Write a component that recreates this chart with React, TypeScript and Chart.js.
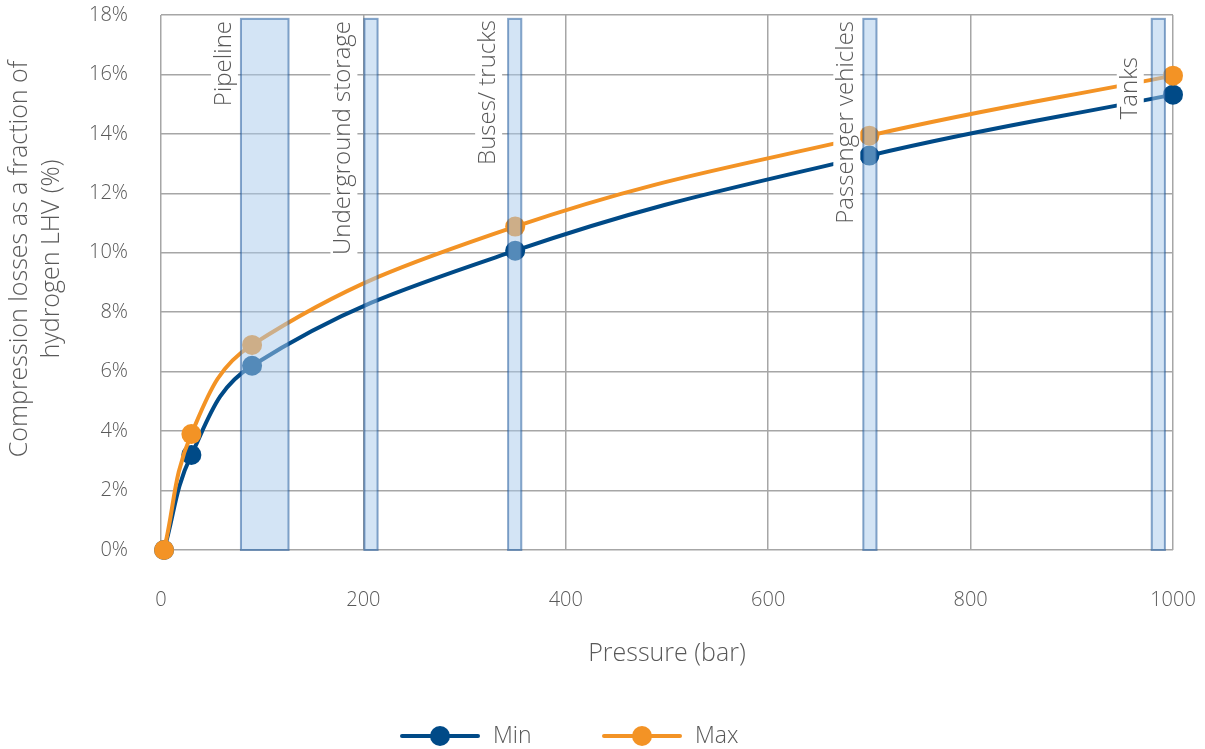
import React, { useEffect, useRef } from "react";
import { Chart, registerables } from "chart.js";

Chart.register(...registerables);

// ---- data ----
const pressures = [3, 30, 90, 350, 700, 1000];
const minLoss = [0, 3.2, 6.2, 10.07, 13.27, 15.32];
const maxLoss = [0, 3.9, 6.9, 10.88, 13.94, 15.96];
const seriesNames = ["Min", "Max"];
const bandLabels = ["Pipeline", "Underground storage", "Buses/ trucks", "Passenger vehicles", "Tanks"];
const bandStart = [79, 201, 343, 694, 979];
const bandEnd = [126, 214, 356, 707, 992];
const bandTop = 17.87;
const xTitle = "Pressure (bar)";
const yTitleLines = ["Compression losses as a fraction of", "hydrogen LHV (%)"];

const BLUE = "#004a87";
const ORANGE = "#f39325";
const TEXT = "#595959";
const FONT = '"Open Sans", sans-serif';
// label placement (pixels): offset left of band, top of text
const labelOffsetX = [17, 21, 20, 17, 22];
const labelTopY = [21, 21, 20, 21, 57];

const overlayPlugin = {
  id: "overlay",
  afterDatasetsDraw(chart: any) {
    const { ctx, scales } = chart;
    const x = scales.x;
    const y = scales.y;
    ctx.save();
    ctx.font = `300 24px ${FONT}`;
    bandLabels.forEach((lab, i) => {
      const px = x.getPixelForValue(bandStart[i]) - labelOffsetX[i];
      const py = labelTopY[i];
      const w = ctx.measureText(lab).width;
      ctx.save();
      ctx.translate(px, py);
      ctx.rotate(-Math.PI / 2);
      ctx.fillStyle = "#ffffff";
      ctx.fillRect(-w - 3, -13, w + 6, 27);
      ctx.fillStyle = TEXT;
      ctx.textAlign = "right";
      ctx.textBaseline = "middle";
      ctx.fillText(lab, 0, 0);
      ctx.restore();
    });
    bandStart.forEach((s, i) => {
      const x0 = x.getPixelForValue(s);
      const x1 = x.getPixelForValue(bandEnd[i]);
      const y0 = y.getPixelForValue(bandTop);
      const y1 = y.getPixelForValue(0);
      ctx.fillStyle = "rgba(167,201,235,0.5)";
      ctx.fillRect(x0, y0, x1 - x0, y1 - y0);
      ctx.strokeStyle = "rgba(20,80,150,0.5)";
      ctx.lineWidth = 2;
      ctx.strokeRect(x0, y0, x1 - x0, y1 - y0);
    });
    ctx.restore();
  },
  afterDraw(chart: any) {
    const { ctx, chartArea } = chart;
    ctx.save();
    ctx.fillStyle = TEXT;
    ctx.font = `300 25px ${FONT}`;
    ctx.textAlign = "center";
    ctx.textBaseline = "middle";
    ctx.fillText(xTitle, (chartArea.left + chartArea.right) / 2, 654);
    ctx.save();
    ctx.translate(0, 259);
    ctx.rotate(-Math.PI / 2);
    ctx.fillText(yTitleLines[0], 0, 20);
    ctx.fillText(yTitleLines[1], 0, 52);
    ctx.restore();
    // legend
    ctx.font = `300 23px ${FONT}`;
    const colors = [BLUE, ORANGE];
    const starts = [402, 604];
    seriesNames.forEach((name, i) => {
      const sx = starts[i];
      const cy = 736;
      ctx.strokeStyle = colors[i];
      ctx.lineWidth = 4;
      ctx.lineCap = "round";
      ctx.beginPath();
      ctx.moveTo(sx, cy);
      ctx.lineTo(sx + 76, cy);
      ctx.stroke();
      ctx.fillStyle = colors[i];
      ctx.beginPath();
      ctx.arc(sx + 38, cy, 10, 0, Math.PI * 2);
      ctx.fill();
      ctx.fillStyle = TEXT;
      ctx.textAlign = "left";
      ctx.fillText(name, sx + 91, cy);
    });
    ctx.restore();
  },
};

export default function App() {
  const ref = useRef<HTMLCanvasElement | null>(null);
  useEffect(() => {
    if (!ref.current) return;
    const mk = (vals: number[]) => pressures.map((p, i) => ({ x: p, y: vals[i] }));
    const common = {
      borderWidth: 4,
      pointRadius: 10,
      pointHoverRadius: 10,
      pointBorderWidth: 0,
      tension: 0.4,
      clip: false as any,
    };
    const chart = new Chart(ref.current, {
      type: "line",
      data: {
        datasets: [
          { ...common, label: seriesNames[0], data: mk(minLoss), borderColor: BLUE, backgroundColor: BLUE, order: 2 },
          { ...common, label: seriesNames[1], data: mk(maxLoss), borderColor: ORANGE, backgroundColor: ORANGE, order: 1 },
        ],
      },
      options: {
        animation: false,
        responsive: false,
        maintainAspectRatio: false,
        layout: { padding: { left: 0, right: 32, top: 15, bottom: 0 } },
        plugins: { legend: { display: false }, tooltip: { enabled: false } },
        scales: {
          x: {
            type: "linear",
            min: 0,
            max: 1000,
            ticks: {
              stepSize: 200,
              color: TEXT,
              font: { family: FONT, size: 20, weight: "300" as any },
              padding: 38,
              callback: (v: any) => String(v),
            },
            grid: { color: "#a6a6a6", lineWidth: 1.5, drawTicks: false },
            border: { display: false },
            afterFit: (s: any) => {
              s.height = 199;
              s.paddingLeft = 0;
              s.paddingRight = 0;
            },
          },
          y: {
            min: 0,
            max: 18,
            ticks: {
              stepSize: 2,
              color: TEXT,
              font: { family: FONT, size: 20, weight: "300" as any },
              padding: 33,
              callback: (v: any) => `${v}%`,
            },
            grid: { color: "#a6a6a6", lineWidth: 1.5, drawTicks: false },
            border: { display: false },
            afterFit: (s: any) => {
              s.width = 161;
              s.paddingTop = 0;
              s.paddingBottom = 0;
            },
          },
        },
      },
      plugins: [overlayPlugin],
    });
    return () => chart.destroy();
  }, []);
  return (
    <div style={{ position: "fixed", left: 0, top: 0, width: 1205, height: 749, background: "#fff" }}>
      <canvas ref={ref} width={1205} height={749} style={{ width: 1205, height: 749 }} />
    </div>
  );
}
